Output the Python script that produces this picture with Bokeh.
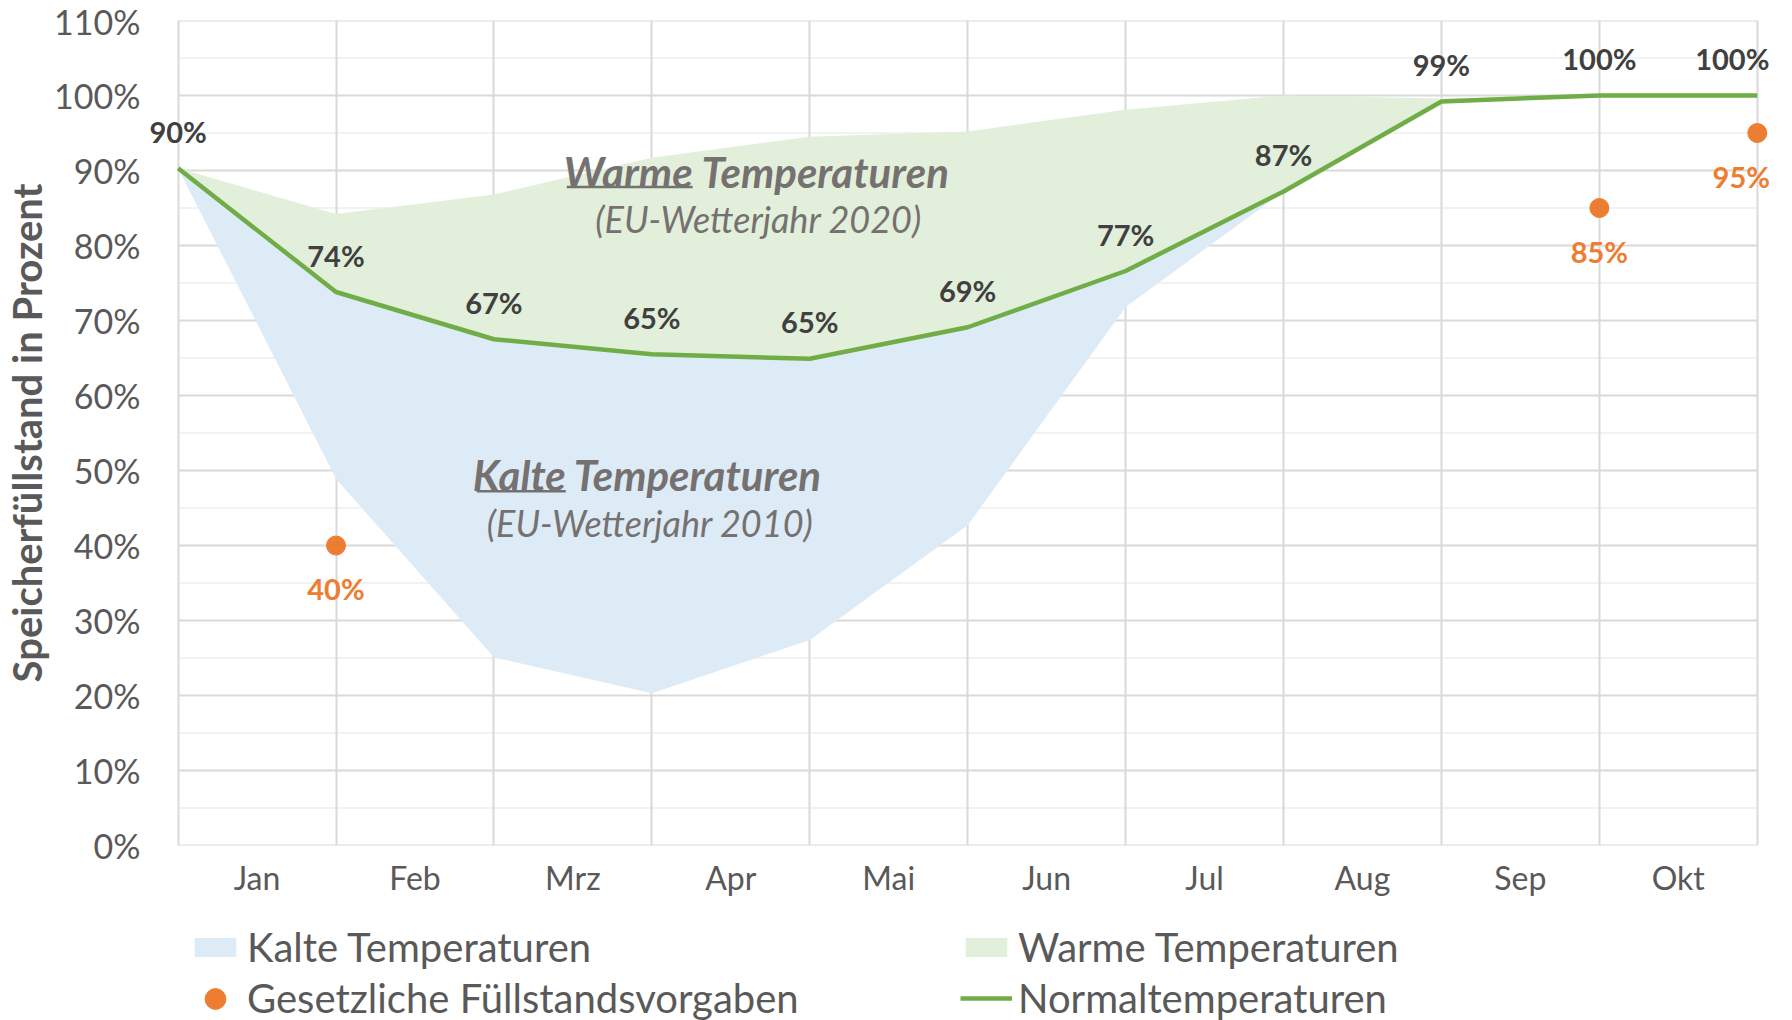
from bokeh.plotting import figure
from bokeh.layouts import column
from bokeh.models import (ColumnDataSource, FixedTicker, PrintfTickFormatter, Range1d,
                          LabelSet, Label, Legend, LegendItem)
from bokeh.core.properties import value
from bokeh.embed import file_html
from bokeh.resources import INLINE

# ---- data ----
months = ["Jan", "Feb", "Mrz", "Apr", "Mai", "Jun", "Jul", "Aug", "Sep", "Okt"]
x_points = [0, 1, 2, 3, 4, 5, 6, 7, 8, 9, 10]
normal = [90.3, 73.8, 67.5, 65.5, 64.9, 69.1, 76.6, 87.2, 99.2, 100, 100]
normal_labels = ["90%", "74%", "67%", "65%", "65%", "69%", "77%", "87%", "99%", "100%", "100%"]
warm = [90.3, 84.2, 86.8, 91.7, 94.5, 95.2, 98.1, 100, 99.6, 100, 100]
cold = [90.3, 48.9, 25.1, 20.3, 27.4, 42.7, 71.8, 87.2, 99.2, 100, 100]
legal_x = [1, 9, 10]
legal = [40, 85, 95]
legal_labels = ["40%", "85%", "95%"]
y_ticks = [0, 10, 20, 30, 40, 50, 60, 70, 80, 90, 100, 110]
y_minor = [5, 15, 25, 35, 45, 55, 65, 75, 85, 95, 105]

# ---- styles ----
FONT = "Lato"
GRAY = "#595959"
DARK = "#404040"
ANN = "#767171"
BLUE = "#DDEBF7"
GREEN_FILL = "#E2EFDA"
GREEN = "#70AD47"
ORANGE = "#ED7D31"
GRID = "#D9D9D9"
GRID_MINOR = "#F2F2F2"

normal_xoff = [0, 0, 0, 0, 0, 0, 0, 0, 0, 0, -25]
legal_xoff = [0, 0, -16]

X0, X1 = -0.2, 10.09
FW = 1625
BL, BR = 145, 6
p = figure(frame_width=FW, frame_height=825,
           x_range=Range1d(X0, X1), y_range=Range1d(0, 110),
           output_backend="svg", toolbar_location=None,
           min_border_left=BL, min_border_right=BR, min_border_top=20, min_border_bottom=60)
p.background_fill_color = "white"
p.border_fill_color = "white"
p.outline_line_color = None

# grids: vertical via Grid, horizontal drawn over the category span only
p.xgrid.ticker = FixedTicker(ticks=x_points)
p.xgrid.grid_line_color = GRID
p.xgrid.grid_line_width = 2
p.ygrid.visible = False
n_minor = len(y_minor)
p.segment(x0=[x_points[0]] * n_minor, x1=[x_points[-1]] * n_minor, y0=y_minor, y1=y_minor,
          line_color=GRID_MINOR, line_width=2, level="underlay")
n_major = len(y_ticks)
p.segment(x0=[x_points[0]] * n_major, x1=[x_points[-1]] * n_major, y0=y_ticks, y1=y_ticks,
          line_color=GRID, line_width=2, level="underlay")

# x axis
tick_pos = [i + 0.5 for i in range(len(months))]
p.xaxis.ticker = FixedTicker(ticks=tick_pos)
p.xaxis.major_label_overrides = {t: m for t, m in zip(tick_pos, months)}
p.xaxis.axis_line_color = None
p.xaxis.major_tick_line_color = None
p.xaxis.minor_tick_line_color = None
p.xaxis.major_label_text_font = FONT
p.xaxis.major_label_text_font_size = "32px"
p.xaxis.major_label_text_color = GRAY
p.xaxis.major_label_standoff = 6

# y axis
p.yaxis.ticker = FixedTicker(ticks=y_ticks)
p.yaxis.formatter = PrintfTickFormatter(format="%d%%")
p.yaxis.axis_line_color = None
p.yaxis.major_tick_line_color = None
p.yaxis.minor_tick_line_color = None
p.yaxis.major_label_text_font = FONT
p.yaxis.major_label_text_font_size = "34px"
p.yaxis.major_label_text_color = GRAY
p.yaxis.major_label_standoff = 0
p.yaxis.axis_label = "Speicherfüllstand in Prozent"
p.yaxis.axis_label_text_font = FONT
p.yaxis.axis_label_text_font_style = "bold"
p.yaxis.axis_label_text_font_size = "40px"
p.yaxis.axis_label_text_color = GRAY
p.yaxis.axis_label_standoff = 0

# areas and line
src = ColumnDataSource(dict(x=x_points, normal=normal, warm=warm, cold=cold,
                            lab=normal_labels, xoff=normal_xoff))
area_cold = dict(fill_color=BLUE)
area_warm = dict(fill_color=GREEN_FILL)
line_style = dict(line_color=GREEN, line_width=4.5)
dot_style = dict(size=19, fill_color=ORANGE, line_color=ORANGE)

p.varea(x="x", y1="cold", y2="normal", source=src, **area_cold)
p.varea(x="x", y1="normal", y2="warm", source=src, **area_warm)
p.line(x="x", y="normal", source=src, **line_style)

lsrc = ColumnDataSource(dict(x=legal_x, y=legal, lab=legal_labels, xoff=legal_xoff))
p.scatter(x="x", y="y", source=lsrc, **dot_style)

p.add_layout(LabelSet(x="x", y="normal", text="lab", source=src,
                      x_offset="xoff", y_offset=37, text_align="center", text_baseline="middle",
                      text_font=value(FONT), text_font_style="bold", text_font_size="29px",
                      text_color=DARK))
p.add_layout(LabelSet(x="x", y="y", text="lab", source=lsrc,
                      x_offset="xoff", y_offset=-43, text_align="center", text_baseline="middle",
                      text_font=value(FONT), text_font_style="bold", text_font_size="29px",
                      text_color=ORANGE))

# in-chart annotations
def ann(x, y, text, align, style, size, xoff=0):
    p.add_layout(Label(x=x, y=y, text=text, text_align=align, text_baseline="middle",
                       x_offset=xoff, text_font=FONT, text_font_style=style,
                       text_font_size=size, text_color=ANN))

ann(3.258, 89.8, "Warme", "right", "bold italic", "42px")
ann(3.258, 89.8, "Temperaturen", "left", "bold italic", "42px", xoff=9)
ann(3.676, 83.5, "(EU-Wetterjahr 2020)", "center", "italic", "36px")
ann(2.455, 49.4, "Kalte", "right", "bold italic", "42px")
ann(2.455, 49.4, "Temperaturen", "left", "bold italic", "42px", xoff=8)
ann(2.989, 43.0, "(EU-Wetterjahr 2010)", "center", "italic", "36px")
p.segment(x0=[2.461, 1.891], y0=[87.8, 47.25], x1=[3.258, 2.455], y1=[87.8, 47.25],
          line_color=ANN, line_width=2.5)

# ---- legend strip (separate figure under the chart, same horizontal frame) ----
HF = 112
lf = figure(frame_width=FW, frame_height=HF, x_range=Range1d(X0, X1), y_range=Range1d(-2, -1),
            output_backend="svg", toolbar_location=None,
            min_border_left=BL, min_border_right=BR, min_border_top=18, min_border_bottom=0)
lf.axis.visible = False
lf.grid.visible = False
lf.outline_line_color = None
lf.background_fill_color = "white"
lf.border_fill_color = "white"
# same series, outside this strip's visible range: only their legend glyphs show
g_cold = lf.varea(x="x", y1="cold", y2="normal", source=src, **area_cold)
g_warm = lf.varea(x="x", y1="normal", y2="warm", source=src, **area_warm)
g_line = lf.line(x="x", y="normal", source=src, **line_style)
g_legal = lf.scatter(x="x", y="y", source=lsrc, **dot_style)

ROW1, ROW2 = 24, 75          # item centres below strip frame top (px)
COL1, COL2 = 43, 814         # item left edges from frame left (px)

def add_legend(label, renderer, col, row, gh, ih):
    lg = Legend(items=[LegendItem(label=label, renderers=[renderer])],
                location=(col, HF - row - ih / 2), orientation="vertical",
                background_fill_alpha=0, border_line_color=None, padding=0, margin=0,
                spacing=0, label_height=48, glyph_height=gh, glyph_width=52,
                label_standoff=6, label_text_font=FONT, label_text_font_size="40px",
                label_text_color=GRAY, label_text_baseline="middle")
    lf.add_layout(lg, "center")

add_legend("Kalte Temperaturen", g_cold, COL1, ROW1, 24, 48)
add_legend("Gesetzliche Füllstandsvorgaben", g_legal, COL1, ROW2, 55, 55)
add_legend("Warme Temperaturen", g_warm, COL2, ROW1, 24, 48)
add_legend("Normaltemperaturen", g_line, COL2, ROW2, 24, 48)

open("out.html", "w").write(file_html(column(p, lf, spacing=0), INLINE))
